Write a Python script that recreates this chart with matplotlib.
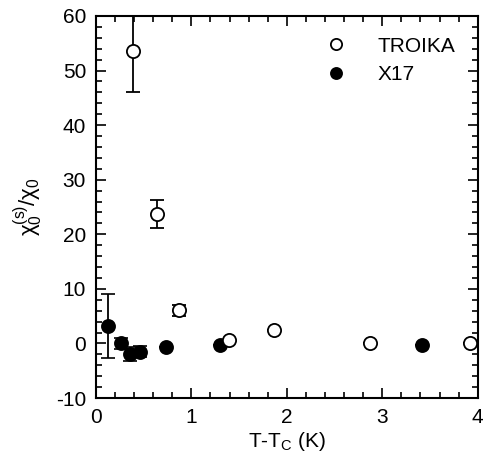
import matplotlib
matplotlib.use("Agg")
import matplotlib.pyplot as plt
from matplotlib.ticker import MultipleLocator

plt.rcParams['font.family'] = ['Liberation Sans', 'DejaVu Sans']
plt.rcParams['mathtext.fontset'] = 'custom'
plt.rcParams['mathtext.rm'] = 'Liberation Sans'
plt.rcParams['mathtext.it'] = 'Liberation Sans'
plt.rcParams['axes.unicode_minus'] = False

troika_x = [0.39, 0.64, 0.875, 1.39, 1.87, 2.87, 3.92]
troika_y = [53.5, 23.7, 6.1, 0.7, 2.5, 0.0, 0.0]
troika_err = [7.5, 2.6, 1.0, 0.0, 0.0, 0.0, 0.0]

x17_x = [0.125, 0.26, 0.36, 0.46, 0.73, 1.30, 3.42]
x17_y = [3.2, 0.0, -2.0, -1.5, -0.6, -0.3, -0.3]
x17_err = [5.8, 1.0, 1.3, 1.0, 0.0, 0.0, 0.0]

fig = plt.figure(figsize=(4.89, 4.62), dpi=100)
ax = fig.add_axes([0.196, 0.1385, 0.781, 0.827])

ax.errorbar(x17_x, x17_y, yerr=x17_err, fmt='o', color='black', mfc='black',
            mec='black', ms=9.5, mew=1.2, elinewidth=1.3, capsize=5, capthick=1.3,
            label='X17', zorder=3)
ax.errorbar(troika_x, troika_y, yerr=troika_err, fmt='o', color='black', mfc='white',
            mec='black', ms=9.5, mew=1.3, elinewidth=1.3, capsize=5, capthick=1.3,
            label='TROIKA', zorder=4)

ax.set_xlim(0, 4)
ax.set_ylim(-10, 60)
ax.xaxis.set_major_locator(MultipleLocator(1))
ax.xaxis.set_minor_locator(MultipleLocator(0.2))
ax.yaxis.set_major_locator(MultipleLocator(10))
ax.yaxis.set_minor_locator(MultipleLocator(2))
ax.tick_params(which='both', direction='in', top=True, right=True, width=1.2,
               labelsize=15)
ax.tick_params(which='major', length=7, pad=7)
ax.tick_params(which='minor', length=4)
for s in ax.spines.values():
    s.set_linewidth(1.5)

ax.set_xlabel(r'T-T$_{\rm C}$ (K)', fontsize=15, labelpad=2)
ax.set_ylabel(r'χ$_0^{\rm (s)}$/χ$_0$', fontsize=16, labelpad=8)

h, l = ax.get_legend_handles_labels()
leg = ax.legend([h[1][0], h[0][0]], [l[1], l[0]], loc='upper right', frameon=False,
                fontsize=15, handletextpad=1.0, bbox_to_anchor=(0.99, 0.995),
                markerscale=0.85, labelspacing=0.45)

fig.savefig('out.png', dpi=100)
